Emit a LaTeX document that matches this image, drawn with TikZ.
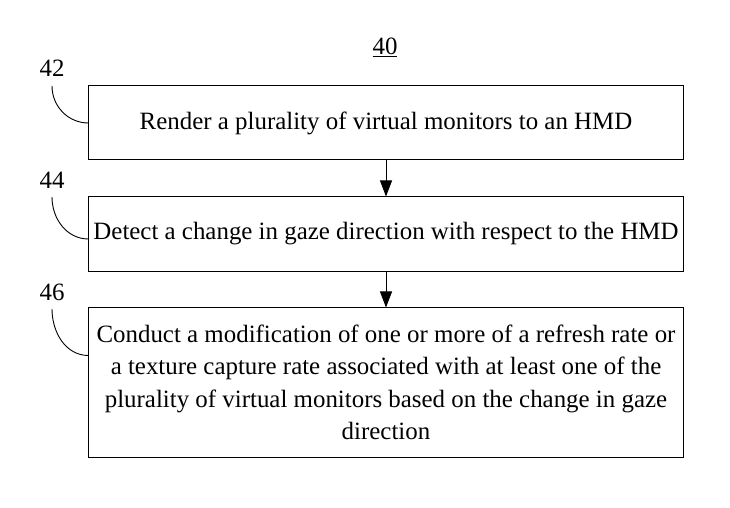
\documentclass[tikz,border=0pt]{standalone}
\usepackage{fontspec}
\setmainfont{Liberation Serif}
\usetikzlibrary{arrows.meta}
\tikzset{
  stepbox/.style={draw,line width=1bp,minimum width=594bp,inner sep=0pt,
    align=center,font=\fontsize{25}{32.5}\selectfont},
  reflabel/.style={font=\fontsize{25}{30}\selectfont,inner sep=0pt},
  flow/.style={line width=1bp,-{Triangle[length=16bp,width=12bp]}},
  leader/.style={line width=0.9bp}
}
\begin{document}
\begin{tikzpicture}[x=1bp,y=-1bp]
   \useasboundingbox (0,0) rectangle (730,508);

   \node[reflabel] (fig) at (385,47) {\underline{40}};

   \node[stepbox,minimum height=74bp] (b42) at (386,123)
     {Render a plurality of virtual monitors to an HMD};
   \node[stepbox,minimum height=74bp] (b44) at (386,234)
     {Detect a change in gaze direction with respect to the HMD};
   \node[stepbox,minimum height=149bp] (b46) at (386,382.5)
     {Conduct a modification of one or more of a refresh rate or\\
      a texture capture rate associated with at least one of the\\
      plurality of virtual monitors based on the change in gaze\\
      direction};

   \draw[flow] (b42) -- (b44);
   \draw[flow] (b44) -- (b46);

   % reference numerals
   \node[reflabel] (l42) at (52,68) {42};
   \node[reflabel] (l44) at (52,180) {44};
   \node[reflabel] (l46) at (52,292) {46};
   \draw[leader] (l42) ++(0,18) to[out=-90,in=180] (b42.west);
   \draw[leader] (l44) ++(0,17) to[out=-90,in=180] ([yshift=-5bp]b44.west);
   \draw[leader] (l46) ++(0,17) to[out=-90,in=180] ([yshift=27bp]b46.west);
 \end{tikzpicture}
\end{document}
